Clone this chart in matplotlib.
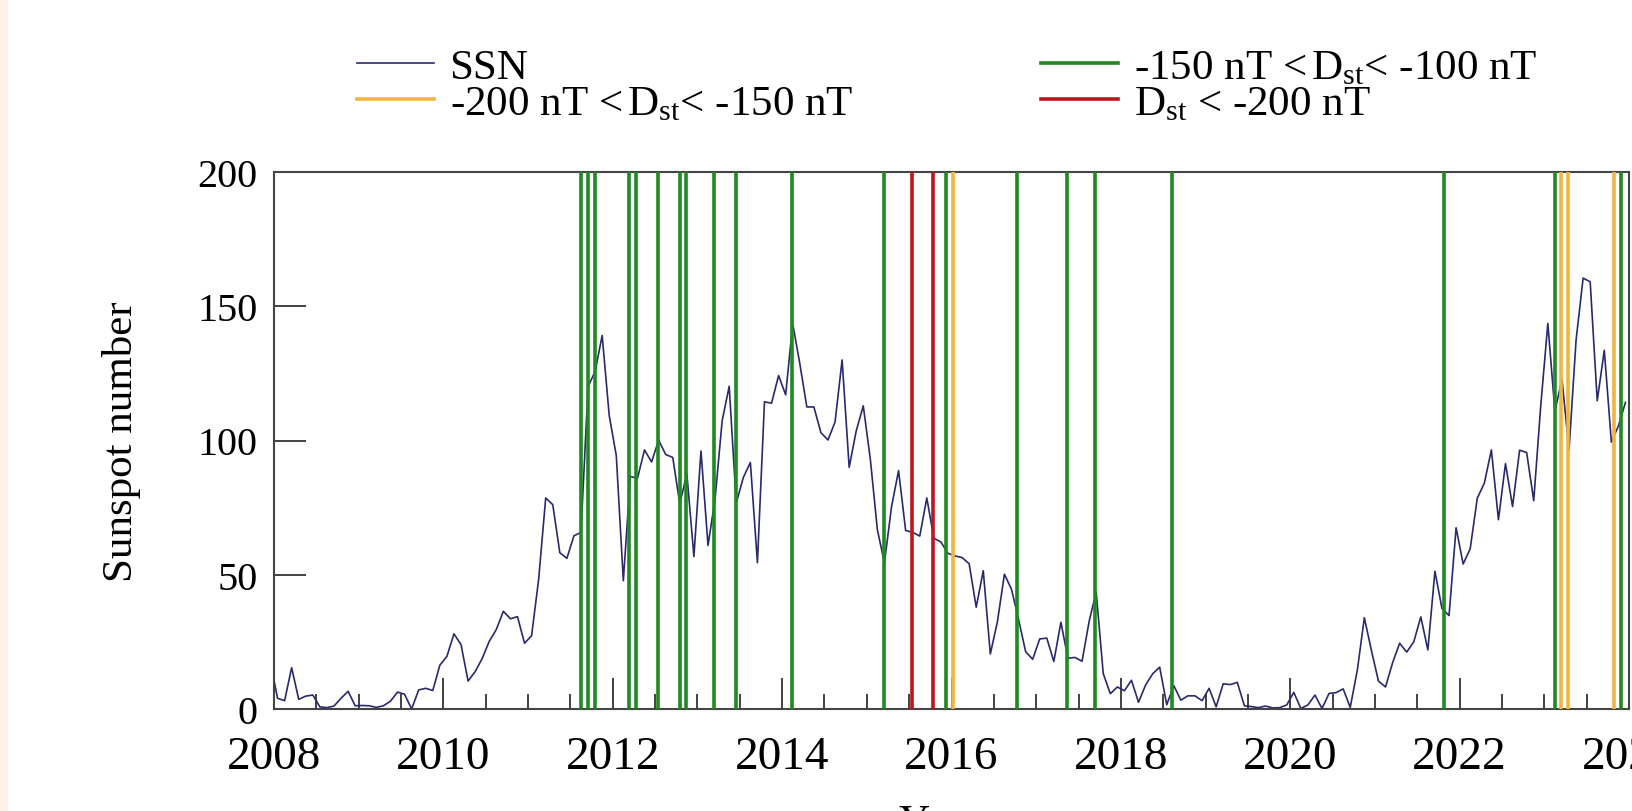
import numpy as np
import matplotlib
matplotlib.use("Agg")
import matplotlib.pyplot as plt
from matplotlib.ticker import MultipleLocator
from matplotlib.patches import Rectangle

plt.rcParams['font.family'] = ['Liberation Serif', 'DejaVu Serif']
plt.rcParams['mathtext.fontset'] = 'custom'
plt.rcParams['mathtext.rm'] = 'Liberation Serif'
plt.rcParams['mathtext.it'] = 'Liberation Serif:italic'

# monthly mean sunspot number (Dec 2007 first, then Jan..Dec of each year)
ssn_dec_2007 = 17.3
ssn_2008 = [4.0, 3.1, 15.4, 3.6, 4.8, 5.2, 0.8, 0.5, 1.1, 4.0, 6.6, 1.2]
ssn_2009 = [1.3, 1.2, 0.6, 1.2, 2.9, 6.3, 5.5, 0.0, 7.1, 7.7, 6.9, 16.3]
ssn_2010 = [19.6, 28.0, 24.0, 10.4, 13.9, 18.8, 25.2, 29.6, 36.4, 33.6, 34.4, 24.5]
ssn_2011 = [27.3, 48.3, 78.6, 76.1, 58.2, 56.1, 64.5, 65.8, 120.1, 125.7, 139.1, 109.3]
ssn_2012 = [94.4, 47.8, 86.6, 85.9, 96.5, 92.0, 100.1, 94.8, 93.7, 76.5, 87.6, 56.8]
ssn_2013 = [96.1, 60.9, 78.3, 107.3, 120.2, 76.7, 86.2, 91.8, 54.5, 114.4, 113.9, 124.2]
ssn_2014 = [117.0, 143.5, 128.7, 112.5, 112.5, 102.9, 100.2, 106.9, 130.0, 90.0, 103.6, 112.9]
ssn_2015 = [93.0, 66.7, 54.5, 75.3, 88.8, 66.5, 65.8, 64.4, 78.6, 63.6, 62.2, 58.0]
ssn_2016 = [57.0, 56.4, 54.1, 37.9, 51.5, 20.5, 32.4, 50.2, 44.6, 33.4, 21.4, 18.5]
ssn_2017 = [26.1, 26.4, 17.7, 32.3, 18.9, 19.2, 17.8, 32.6, 43.6, 13.2, 5.7, 8.2]
ssn_2018 = [6.8, 10.7, 2.5, 8.9, 13.1, 15.6, 1.6, 8.7, 3.3, 4.9, 4.9, 3.1]
ssn_2019 = [7.7, 0.8, 9.4, 9.1, 9.9, 1.2, 0.9, 0.5, 1.1, 0.4, 0.5, 1.5]
ssn_2020 = [6.2, 0.2, 1.5, 5.2, 0.2, 5.8, 6.1, 7.5, 0.6, 14.4, 34.0, 21.8]
ssn_2021 = [10.4, 8.2, 17.2, 24.5, 21.2, 25.0, 34.3, 22.0, 51.3, 37.4, 34.8, 67.5]
ssn_2022 = [54.0, 59.7, 78.5, 84.1, 96.5, 70.5, 91.4, 75.4, 96.4, 95.5, 77.6, 113.1]
ssn_2023 = [143.6, 110.9, 122.8, 96.4, 137.4, 160.5, 159.1, 114.8, 133.6, 99.4, 105.4, 114.2]

# storm dates (decimal year) by Dst class
dst_100_150 = [2011.63, 2011.71, 2011.79, 2012.19, 2012.28, 2012.53, 2012.79,
               2012.87, 2013.20, 2013.45, 2014.12, 2015.20, 2015.94, 2016.77,
               2017.36, 2017.69, 2018.60, 2021.82, 2023.13, 2023.90]
dst_150_200 = [2016.02, 2023.20, 2023.28, 2023.82]
dst_200 = [2015.53, 2015.78]

ssn = [ssn_dec_2007] + ssn_2008 + ssn_2009 + ssn_2010 + ssn_2011 + ssn_2012 + \
      ssn_2013 + ssn_2014 + ssn_2015 + ssn_2016 + ssn_2017 + ssn_2018 + \
      ssn_2019 + ssn_2020 + ssn_2021 + ssn_2022 + ssn_2023
t = 2007.0 + (np.arange(len(ssn)) + 11.5) / 12.0

c_green = '#1f8a1f'
c_orange = '#f2b43c'
c_red = '#c0141e'
c_ssn = '#29296e'

fig = plt.figure(figsize=(16.33, 8.12), dpi=100)
fig.patches.append(Rectangle((0, 0), 8 / 1633, 1, transform=fig.transFigure,
                             facecolor='#fdf1e6', edgecolor='none'))
ax = fig.add_axes([274 / 1633, 1 - 710 / 812, 1355 / 1633, 537 / 812])

h_ssn, = ax.plot(t, ssn, color=c_ssn, lw=1.2, zorder=2)
h_g = [ax.axvline(x, color=c_green, lw=2.6, zorder=3) for x in dst_100_150][0]
h_o = [ax.axvline(x, color=c_orange, lw=2.6, zorder=3) for x in dst_150_200][0]
h_r = [ax.axvline(x, color=c_red, lw=2.6, zorder=3) for x in dst_200][0]

ax.set_xlim(2008, 2024)
ax.set_ylim(0, 200)
ax.xaxis.set_major_locator(MultipleLocator(2))
ax.xaxis.set_minor_locator(MultipleLocator(0.5))
ax.yaxis.set_major_locator(MultipleLocator(50))
ax.tick_params(axis='both', which='major', direction='in',
               color='#333333', width=1.3)
ax.tick_params(axis='x', which='major', length=22, labelsize=34, pad=19)
ax.tick_params(axis='y', which='major', length=23, labelsize=29, pad=12)
ax.tick_params(axis='x', which='minor', direction='in', length=11,
               color='#333333', width=1.3)
for s in ax.spines.values():
    s.set_color('#444444')
    s.set_linewidth(1.5)

ax.set_ylabel('Sunspot number', fontsize=31)
ax.yaxis.set_label_coords(-0.098, 0.5)
ax.set_xlabel('Year', fontsize=31)
ax.xaxis.set_label_coords(0.49, -0.176)

# legend: two columns, each its own box
dst = r'$\,\mathrm{D}_{\mathrm{st}}$'
leg_kw = dict(frameon=False, loc='upper left', bbox_transform=fig.transFigure,
              fontsize=31, borderpad=0, borderaxespad=0, handlelength=1.8,
              handletextpad=0.35, labelspacing=-0.06)
leg1 = ax.legend([h_ssn, h_o], ['SSN', '-200 nT <' + dst + '< -150 nT'],
                 bbox_to_anchor=(357 / 1633, 0.940), **leg_kw)
ax.add_artist(leg1)
leg2 = ax.legend([h_g, h_r], ['-150 nT <' + dst + '< -100 nT',
                              r'D$_{\mathrm{st}}$ < -200 nT'],
                 bbox_to_anchor=(1041 / 1633, 0.940), **leg_kw)
for lg in (leg1, leg2):
    for ln in lg.get_lines():
        ln.set_linewidth(2.6)
leg1.get_lines()[0].set_linewidth(1.2)

fig.savefig('out.png', dpi=100)
